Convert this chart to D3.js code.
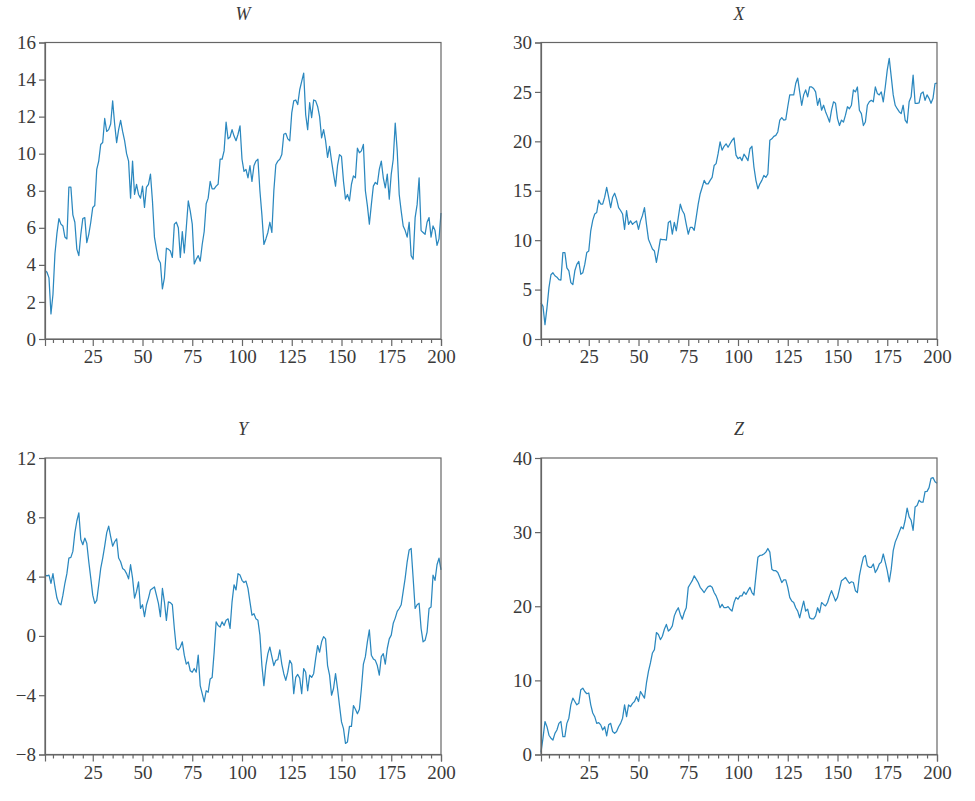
<!DOCTYPE html>
<html><head><meta charset="utf-8">
<script src="https://cdn.jsdelivr.net/npm/d3@7"></script>
<style>body{margin:0;background:#fff}</style>
</head><body><svg id="c" width="975" height="801"></svg>
<script>
const xIndex = d3.range(1, 201);
const titles = ["W", "X", "Y", "Z"];
const wValues = [3.7,3.6,3.3,1.35,2.4,4.6,5.7,6.5,6.2,6.1,
5.5,5.4,8.2,8.2,6.7,6.3,4.85,4.5,5.65,6.5,
6.55,5.2,5.65,6.3,7.1,7.2,9.15,9.6,10.5,10.6,
11.9,11.2,11.3,11.6,12.85,11.6,10.6,11.3,11.8,11.2,
10.7,10.0,9.6,7.6,9.6,7.8,8.35,7.8,7.6,8.25,
7.1,8.2,8.35,8.9,7.45,5.5,4.85,4.3,4.1,2.7,
3.3,4.9,4.85,4.75,4.4,6.2,6.3,6.0,4.4,5.8,
4.65,6.0,7.45,6.9,6.2,4.05,4.3,4.5,4.2,5.1,
5.8,7.3,7.6,8.5,8.1,8.1,8.25,8.35,9.7,9.7,
10.15,11.7,10.8,10.9,11.3,10.95,10.7,11.05,11.5,9.7,
9.05,9.15,8.7,9.35,8.5,9.35,9.6,9.7,8.0,6.7,
5.1,5.4,5.75,6.3,5.75,8.0,9.4,9.6,9.7,9.95,
11.05,11.1,10.8,10.7,12.2,12.85,12.9,12.65,13.45,13.9,
14.35,12.1,11.3,12.75,11.95,12.9,12.85,12.55,12.0,10.85,
11.3,10.7,9.8,10.4,9.6,8.9,8.25,9.35,9.95,9.85,
8.5,7.55,7.8,7.45,8.35,8.8,8.7,10.3,10.05,10.15,
10.5,8.0,7.2,6.2,7.25,8.25,8.45,8.35,9.15,9.6,
8.7,8.15,8.9,7.55,8.9,9.7,11.65,10.15,7.8,6.9,
6.1,5.85,5.5,6.3,4.5,4.3,6.55,7.25,8.7,5.85,
5.75,5.65,6.3,6.55,5.5,6.1,5.85,5.05,5.4,6.8];
const xValues = [3.65,3.3,1.45,3.15,5.2,6.5,6.7,6.4,6.25,6.0,
5.95,8.75,8.75,7.2,6.9,5.7,5.5,6.9,7.55,7.85,
6.55,6.7,7.55,8.75,8.9,10.95,12.0,12.65,12.8,14.05,
13.65,13.65,14.35,15.35,14.35,13.3,14.35,14.75,14.15,13.3,
13.0,12.65,11.1,13.0,11.6,11.95,11.6,11.8,11.95,11.1,
11.95,12.5,13.3,11.6,10.1,9.6,9.1,8.9,7.75,8.9,
10.1,10.05,10.05,10.0,11.8,11.95,10.6,11.8,10.95,12.3,
13.65,13.0,12.65,11.6,10.6,11.3,11.3,11.0,12.3,13.65,
14.7,15.35,16.05,15.7,15.7,16.05,16.35,17.55,17.75,18.75,
19.95,19.1,19.5,19.75,19.4,19.75,20.1,20.35,18.6,18.25,
18.4,18.05,18.7,18.4,18.05,19.25,19.5,17.4,16.05,15.2,
15.7,16.05,16.55,16.35,16.7,20.1,20.25,20.5,20.6,20.95,
22.15,22.4,22.15,22.2,23.5,24.7,24.7,24.7,25.85,26.4,
25.0,23.65,24.7,25.2,24.5,25.5,25.5,25.35,25.0,23.65,
24.35,23.15,23.65,23.0,22.5,21.95,23.15,24.0,23.85,22.3,
21.6,22.15,21.95,22.65,23.5,23.3,23.65,25.2,25.0,25.5,
23.15,22.8,21.6,21.95,23.65,24.0,24.15,24.0,25.5,24.85,
24.7,25.0,24.0,25.5,27.2,28.4,26.55,24.7,23.65,23.3,
23.0,22.8,23.65,22.15,21.85,24.0,24.5,26.7,23.85,23.85,
23.9,24.85,25.0,24.15,24.7,24.35,23.85,24.35,25.85,25.9];
const yValues = [4.1,4.05,4.1,3.55,4.2,3.3,2.55,2.2,2.1,2.75,
3.55,4.2,5.25,5.3,5.7,6.95,7.75,8.3,6.5,6.15,
6.6,6.25,5.0,3.9,2.75,2.2,2.4,3.45,4.55,5.25,
6.05,6.95,7.4,6.7,6.05,6.35,6.55,5.25,5.0,4.55,
4.45,4.2,3.85,4.8,3.9,2.55,3.0,3.65,1.85,2.1,
1.3,2.1,2.55,3.1,3.2,3.3,2.75,2.2,1.3,3.2,
2.3,1.05,2.3,2.25,2.1,0.5,-0.85,-0.95,-0.75,-0.4,
-1.3,-1.9,-1.75,-2.35,-2.45,-2.2,-2.45,-1.3,-3.35,-3.9,
-4.45,-3.7,-3.8,-2.9,-2.8,-1.1,0.95,0.7,0.6,0.95,
0.7,1.05,1.15,0.5,2.3,3.45,3.1,4.2,4.1,3.75,
3.6,3.7,3.2,2.3,1.4,1.5,1.15,1.05,0.05,-2.0,
-3.35,-2.0,-1.2,-0.75,-1.4,-2.0,-1.65,-1.6,-0.95,-1.9,
-2.55,-3.0,-2.45,-1.65,-1.9,-3.9,-2.8,-2.6,-2.85,-3.9,
-2.2,-2.45,-3.7,-2.65,-2.8,-2.55,-1.55,-0.65,-1.1,-0.4,
-0.05,-0.2,-2.0,-2.65,-4.0,-3.55,-2.55,-3.55,-4.7,-5.8,
-6.25,-7.25,-7.15,-6.1,-6.1,-4.7,-4.95,-5.25,-4.95,-3.55,
-1.9,-1.4,-0.4,0.4,-1.3,-1.55,-1.65,-2.0,-2.65,-1.4,
-1.2,-1.9,-0.85,-0.2,0.05,0.85,1.2,1.65,1.85,2.1,
3.0,3.9,5.0,5.8,5.9,3.9,1.85,2.1,2.2,0.5,
-0.4,-0.3,0.25,1.85,1.95,4.1,3.75,4.8,5.25,4.45];
const zValues = [0.3,2.2,4.45,3.75,2.6,2.2,1.95,2.85,3.3,4.2,
4.45,2.4,2.4,4.2,4.9,6.7,7.6,7.15,6.7,6.9,
8.75,8.95,8.5,8.2,8.3,6.7,5.6,5.1,4.2,4.3,
4.0,3.3,3.75,2.5,4.0,4.2,3.1,2.85,3.1,3.75,
4.2,4.9,6.7,5.1,6.7,6.45,6.9,7.15,7.8,7.15,
8.5,8.05,7.6,9.65,11.2,12.35,13.7,14.15,16.45,16.2,
15.5,15.95,16.9,17.55,16.65,16.9,17.35,18.7,19.35,19.8,
18.9,18.25,19.15,19.8,22.55,23.0,23.45,24.1,23.65,23.2,
22.55,22.2,21.85,22.3,22.65,22.75,22.55,21.85,21.4,20.7,
19.8,20.25,19.8,19.8,19.95,19.6,19.35,20.5,21.2,20.95,
21.4,21.4,21.95,21.6,22.1,22.55,21.85,21.5,24.1,26.6,
26.85,26.9,27.05,27.3,27.8,27.3,25.0,24.8,24.8,24.55,
23.9,23.2,23.55,23.55,22.55,21.2,20.7,20.5,19.8,19.35,
18.45,19.6,20.7,19.35,19.6,18.45,18.3,18.3,18.7,19.8,
19.15,20.5,20.25,20.05,20.5,21.4,22.1,21.4,20.7,21.2,
22.3,23.45,23.65,23.9,23.45,23.1,23.3,23.2,22.1,21.85,
24.1,25.45,26.6,26.85,25.45,25.25,25.25,25.7,24.55,25.0,
25.7,25.95,27.05,25.95,24.8,23.3,25.0,27.5,28.65,29.3,
30.0,30.7,30.45,31.6,33.25,32.05,31.6,30.25,33.4,33.6,
34.3,34.05,34.05,35.45,35.5,36.0,37.25,37.35,36.8,36.6];
const wTicks = [0,2,4,6,8,10,12,14,16];
const xTicks = [0,5,10,15,20,25,30];
const yTicks = [-8,-4,0,4,8,12];
const zTicks = [0,10,20,30,40];
const xMajorTicks = [25,50,75,100,125,150,175,200];
const xMinorTicks = [5,10,15,20,30,35,40,45,55,60,65,70,80,85,90,95,105,110,115,120,130,135,140,145,155,160,165,170,180,185,190,195];

const series = [wValues, xValues, yValues, zValues];
const tickSets = [wTicks, xTicks, yTicks, zTicks];
const lefts = [45, 541, 45, 541];
const tops = [42.5, 42.5, 458, 458];
const PW = 396, PH = 296.5;
const FONT = "'Liberation Serif','Times New Roman',serif";
const INK = "#3a3a3a";
const FRAME = "#666";
const LINE = "#2b88bf";

const svg = d3.select("#c");
svg.append("rect").attr("width",975).attr("height",801).attr("fill","#fff");

series.forEach((vals, k) => {
  const ticks = tickSets[k];
  const g = svg.append("g").attr("transform", `translate(${lefts[k]},${tops[k]})`);
  const x = d3.scaleLinear().domain([1, 200]).range([0, PW]);
  const y = d3.scaleLinear().domain([ticks[0], ticks[ticks.length-1]]).range([PH, 0]);

  // line
  g.append("path")
    .datum(vals.map((v,i)=>[xIndex[i], v]))
    .attr("fill","none").attr("stroke",LINE).attr("stroke-width",1.25)
    .attr("stroke-linejoin","round")
    .attr("d", d3.line().x(d=>x(d[0])).y(d=>y(d[1])));

  // frame
  g.append("rect").attr("x",0).attr("y",0).attr("width",PW).attr("height",PH)
    .attr("fill","none").attr("stroke",FRAME).attr("stroke-width",1.2);

  // y axis
  const ya = g.append("g").call(d3.axisLeft(y).tickValues(ticks).tickSize(6).tickPadding(3).tickFormat(d3.format("d")));
  ya.select(".domain").attr("stroke",FRAME).attr("stroke-width",1.2);
  ya.selectAll(".tick line").attr("stroke",FRAME).attr("stroke-width",1.2);
  ya.selectAll("text").attr("fill",INK).style("font-family",FONT).style("font-size","19px");

  // x minor ticks
  const xm = g.append("g").attr("transform",`translate(0,${PH})`)
    .call(d3.axisBottom(x).tickValues(xMinorTicks).tickSize(4).tickFormat(""));
  xm.select(".domain").remove();
  xm.selectAll(".tick line").attr("stroke",FRAME).attr("stroke-width",1.2);
  // x major ticks
  const xa = g.append("g").attr("transform",`translate(0,${PH})`)
    .call(d3.axisBottom(x).tickValues(xMajorTicks).tickSize(7).tickPadding(4).tickFormat(d3.format("d")));
  xa.select(".domain").attr("stroke",FRAME).attr("stroke-width",1.2);
  xa.selectAll(".tick line").attr("stroke",FRAME).attr("stroke-width",1.2);
  xa.selectAll("text").attr("fill",INK).style("font-family",FONT).style("font-size","19px");

  // title
  g.append("text").attr("x",PW/2).attr("y",-23)
    .attr("text-anchor","middle").attr("fill",INK)
    .style("font-family",FONT).style("font-style","italic").style("font-size","18px")
    .text(titles[k]);
});
</script></body></html>
